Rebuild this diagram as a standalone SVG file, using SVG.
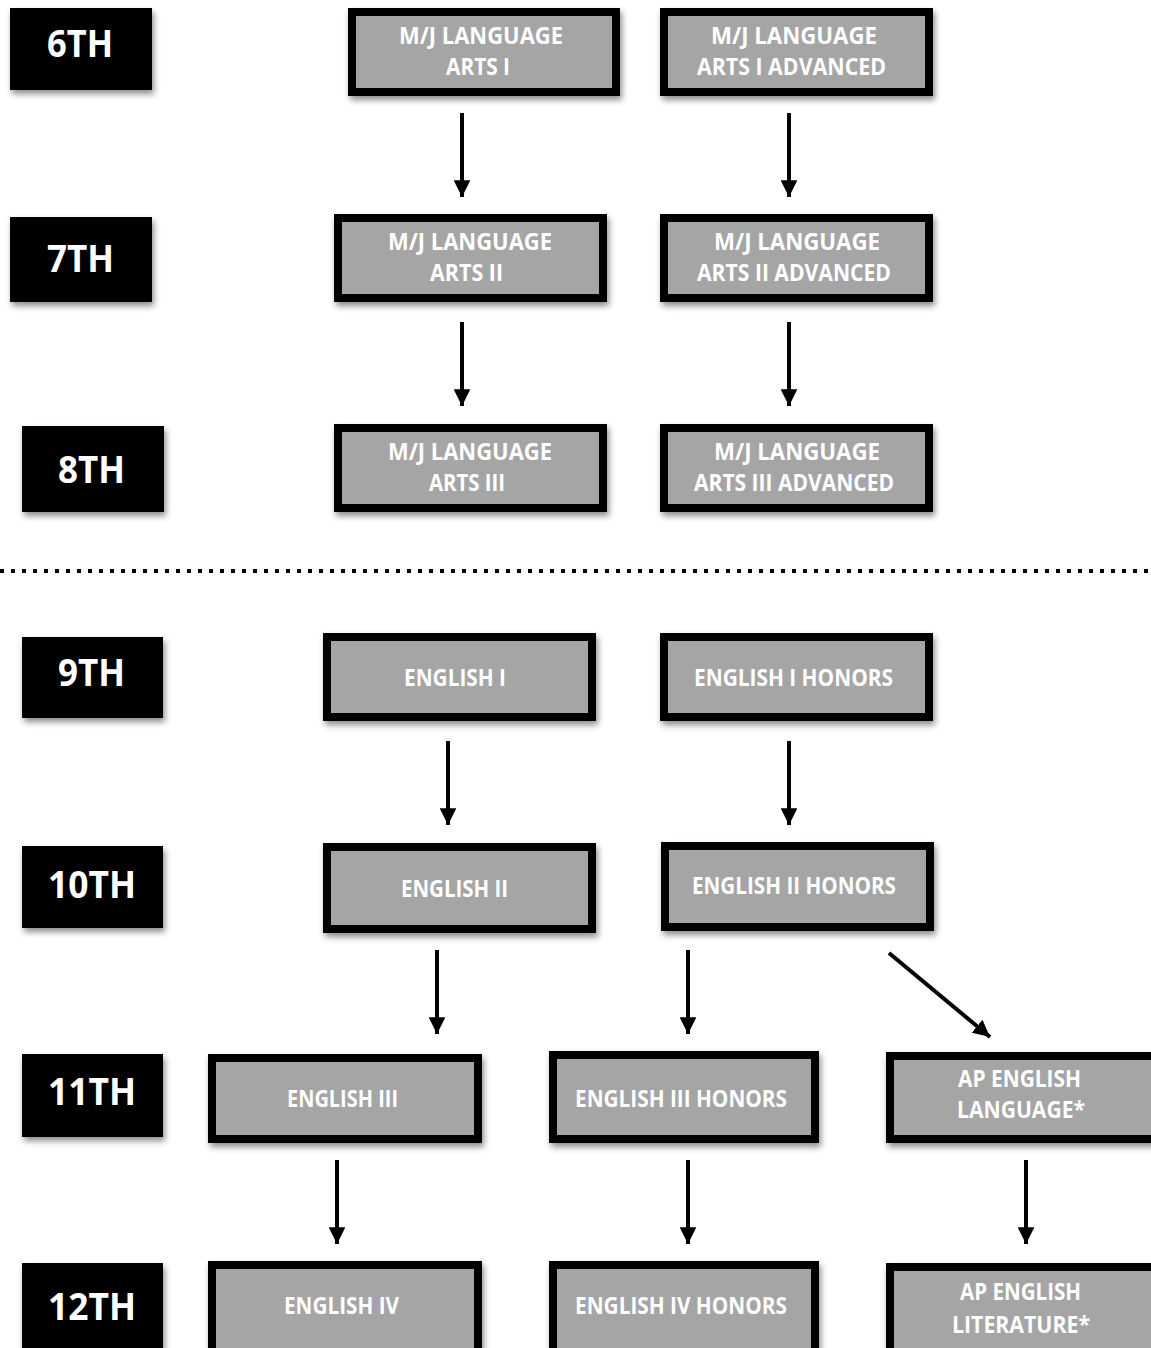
<svg xmlns="http://www.w3.org/2000/svg" width="1151" height="1348" viewBox="0 0 1151 1348">
<defs>
<filter id="sh" x="-10%" y="-10%" width="125%" height="130%">
<feDropShadow dx="2" dy="4" stdDeviation="3" flood-color="#000" flood-opacity="0.45"/>
</filter>
<marker id="ah" viewBox="0 0 10 10" refX="10" refY="5" markerWidth="4.2" markerHeight="4.2" orient="auto" markerUnits="strokeWidth">
<path d="M0,0 L10,5 L0,10 Z" fill="#000"/>
</marker>
<style>
.grade rect{fill:#000;filter:url(#sh)}
.grade text{fill:#fff;font-family:"Open Sans","Liberation Sans",sans-serif;font-weight:bold;font-size:37px}
.course rect{fill:#a5a5a5;stroke:#000;stroke-width:8;filter:url(#sh)}
.course text{fill:#fff;font-family:"Open Sans","Liberation Sans",sans-serif;font-weight:bold;font-size:23px}
.conn line{stroke:#000;stroke-width:4;marker-end:url(#ah)}
</style>
</defs>
<rect width="1151" height="1348" fill="#fff"/>

<g id="grade-6"  class="grade"><rect x="10" y="8" width="142" height="82"/><text x="47" y="57" textLength="66" lengthAdjust="spacingAndGlyphs">6TH</text></g>
<g id="grade-7"  class="grade"><rect x="10" y="217" width="142" height="85"/><text x="47" y="272" textLength="67" lengthAdjust="spacingAndGlyphs">7TH</text></g>
<g id="grade-8"  class="grade"><rect x="22" y="426" width="142" height="86"/><text x="58" y="483" textLength="67" lengthAdjust="spacingAndGlyphs">8TH</text></g>
<g id="grade-9"  class="grade"><rect x="22" y="637" width="141" height="81"/><text x="58" y="686" textLength="67" lengthAdjust="spacingAndGlyphs">9TH</text></g>
<g id="grade-10" class="grade"><rect x="22" y="846" width="141" height="82"/><text x="48" y="898" textLength="88" lengthAdjust="spacingAndGlyphs">10TH</text></g>
<g id="grade-11" class="grade"><rect x="22" y="1054" width="141" height="83"/><text x="48" y="1105" textLength="88" lengthAdjust="spacingAndGlyphs">11TH</text></g>
<g id="grade-12" class="grade"><rect x="22" y="1263" width="141" height="95"/><text x="48" y="1320" textLength="88" lengthAdjust="spacingAndGlyphs">12TH</text></g>

<g id="ma1" class="course"><rect x="352" y="12" width="264" height="80"/>
<text x="399" y="44" textLength="164" lengthAdjust="spacingAndGlyphs">M/J LANGUAGE</text>
<text x="446" y="75" textLength="64" lengthAdjust="spacingAndGlyphs">ARTS I</text></g>
<g id="ma1adv" class="course"><rect x="664" y="12" width="265" height="80"/>
<text x="711" y="44" textLength="166" lengthAdjust="spacingAndGlyphs">M/J LANGUAGE</text>
<text x="697" y="75" textLength="189" lengthAdjust="spacingAndGlyphs">ARTS I ADVANCED</text></g>

<g id="ma2" class="course"><rect x="338" y="218" width="265" height="80"/>
<text x="388" y="250" textLength="164" lengthAdjust="spacingAndGlyphs">M/J LANGUAGE</text>
<text x="430" y="281" textLength="73" lengthAdjust="spacingAndGlyphs">ARTS II</text></g>
<g id="ma2adv" class="course"><rect x="664" y="218" width="265" height="80"/>
<text x="714" y="250" textLength="166" lengthAdjust="spacingAndGlyphs">M/J LANGUAGE</text>
<text x="697" y="281" textLength="194" lengthAdjust="spacingAndGlyphs">ARTS II ADVANCED</text></g>

<g id="ma3" class="course"><rect x="338" y="428" width="265" height="80"/>
<text x="388" y="460" textLength="164" lengthAdjust="spacingAndGlyphs">M/J LANGUAGE</text>
<text x="429" y="491" textLength="76" lengthAdjust="spacingAndGlyphs">ARTS III</text></g>
<g id="ma3adv" class="course"><rect x="664" y="428" width="265" height="80"/>
<text x="714" y="460" textLength="166" lengthAdjust="spacingAndGlyphs">M/J LANGUAGE</text>
<text x="694" y="491" textLength="200" lengthAdjust="spacingAndGlyphs">ARTS III ADVANCED</text></g>

<g id="eng1" class="course"><rect x="327" y="637" width="265" height="80"/>
<text x="404" y="686" textLength="102" lengthAdjust="spacingAndGlyphs">ENGLISH I</text></g>
<g id="eng1h" class="course"><rect x="664" y="637" width="265" height="80"/>
<text x="694" y="686" textLength="199" lengthAdjust="spacingAndGlyphs">ENGLISH I HONORS</text></g>

<g id="eng2" class="course"><rect x="327" y="847" width="265" height="82"/>
<text x="401" y="897" textLength="107" lengthAdjust="spacingAndGlyphs">ENGLISH II</text></g>
<g id="eng2h" class="course"><rect x="665" y="846" width="265" height="81"/>
<text x="692" y="894" textLength="204" lengthAdjust="spacingAndGlyphs">ENGLISH II HONORS</text></g>

<g id="eng3" class="course"><rect x="212" y="1058" width="266" height="81"/>
<text x="287" y="1107" textLength="111" lengthAdjust="spacingAndGlyphs">ENGLISH III</text></g>
<g id="eng3h" class="course"><rect x="553" y="1055" width="262" height="84"/>
<text x="575" y="1107" textLength="212" lengthAdjust="spacingAndGlyphs">ENGLISH III HONORS</text></g>
<g id="aplang" class="course"><rect x="890" y="1056" width="270" height="83"/>
<text x="958" y="1087" textLength="123" lengthAdjust="spacingAndGlyphs">AP ENGLISH</text>
<text x="957" y="1118" textLength="128" lengthAdjust="spacingAndGlyphs">LANGUAGE*</text></g>

<g id="eng4" class="course"><rect x="212" y="1265" width="266" height="95"/>
<text x="284" y="1314" textLength="115" lengthAdjust="spacingAndGlyphs">ENGLISH IV</text></g>
<g id="eng4h" class="course"><rect x="553" y="1265" width="262" height="95"/>
<text x="575" y="1314" textLength="212" lengthAdjust="spacingAndGlyphs">ENGLISH IV HONORS</text></g>
<g id="aplit" class="course"><rect x="890" y="1267" width="270" height="95"/>
<text x="960" y="1300" textLength="121" lengthAdjust="spacingAndGlyphs">AP ENGLISH</text>
<text x="952" y="1333" textLength="138" lengthAdjust="spacingAndGlyphs">LITERATURE*</text></g>

<line id="divider" x1="0" y1="571" x2="1151" y2="571" stroke="#000" stroke-width="4" stroke-dasharray="4 7"/>

<g id="connectors" class="conn">
<line x1="462" y1="113" x2="462" y2="197"/>
<line x1="789" y1="113" x2="789" y2="197"/>
<line x1="462" y1="322" x2="462" y2="406"/>
<line x1="789" y1="322" x2="789" y2="406"/>
<line x1="448" y1="741" x2="448" y2="825"/>
<line x1="789" y1="741" x2="789" y2="825"/>
<line x1="437" y1="950" x2="437" y2="1034"/>
<line x1="688" y1="950" x2="688" y2="1034"/>
<line x1="889" y1="953" x2="990" y2="1037"/>
<line x1="337" y1="1160" x2="337" y2="1244"/>
<line x1="688" y1="1160" x2="688" y2="1244"/>
<line x1="1026" y1="1160" x2="1026" y2="1244"/>
</g>
</svg>
